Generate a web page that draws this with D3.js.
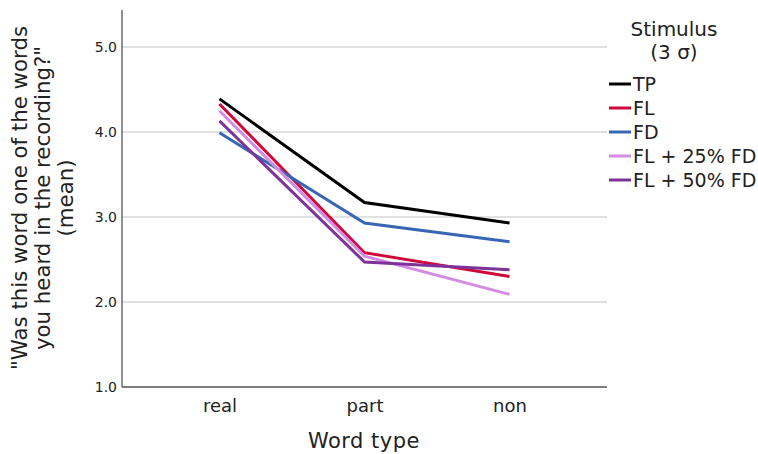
<!DOCTYPE html>
<html><head><meta charset="utf-8">
<script src="https://cdn.jsdelivr.net/npm/d3@7"></script>
<style>body{margin:0;background:#fff}svg{display:block;font-family:"DejaVu Sans",sans-serif}</style>
</head><body><svg id="c" width="758" height="454"></svg>
<script>
const categories = ["real","part","non"];
const seriesNames = ["TP","FL","FD","FL + 25% FD","FL + 50% FD"];
const seriesColors = ["#000000","#d0073b","#3767b4","#d48be2","#7e3398"];
const TP = [4.39, 3.17, 2.93];
const FL = [4.33, 2.58, 2.30];
const FD = [3.99, 2.93, 2.71];
const FL25 = [4.25, 2.54, 2.09];
const FL50 = [4.13, 2.47, 2.38];
const yTicks = [1.0, 2.0, 3.0, 4.0, 5.0];
const seriesValues = [TP, FL, FD, FL25, FL50];

(function () {
const svg = d3.select("#c");
const mLeft = 122, mRight = 607, mTop = 10, mBottom = 387;
const x = d3.scalePoint().domain(categories).range([mLeft, mRight]).padding(0.672);
const y = d3.scaleLinear().domain([1, 5]).range([mBottom, 47]);

// gridlines
svg.append("g").selectAll("line").data(yTicks.filter(d => d > 1)).join("line")
  .attr("x1", mLeft).attr("x2", mRight).attr("y1", d => y(d)).attr("y2", d => y(d))
  .attr("stroke", "#c4c4c4").attr("stroke-width", 1.2);

// y axis
const ya = svg.append("g").attr("transform", `translate(${mLeft},0)`)
  .call(d3.axisLeft(y).tickValues(yTicks).tickFormat(d3.format(".1f")).tickSize(0).tickPadding(5));
ya.select(".domain").remove();
ya.selectAll("text").attr("font-size", 14).attr("fill", "#222").attr("font-family", "DejaVu Sans");
svg.append("line").attr("x1", mLeft).attr("x2", mLeft).attr("y1", mTop).attr("y2", mBottom).attr("stroke", "#555").attr("stroke-width", 1.3);

// x axis
const xa = svg.append("g").attr("transform", `translate(0,${mBottom})`)
  .call(d3.axisBottom(x).tickSize(0).tickPadding(12));
xa.select(".domain").remove();
xa.selectAll("text").attr("font-size", 18).attr("fill", "#222").attr("font-family", "DejaVu Sans");
svg.append("line").attr("x1", mLeft).attr("x2", mRight).attr("y1", mBottom).attr("y2", mBottom).attr("stroke", "#555").attr("stroke-width", 1.3);

// lines
const line = d3.line().x((d, i) => x(categories[i])).y(d => y(d));
seriesValues.forEach((vals, i) => {
  svg.append("path").datum(vals).attr("d", line).attr("fill", "none")
    .attr("stroke", seriesColors[i]).attr("stroke-width", 3);
});

// axis titles
svg.append("text").attr("x", 364).attr("y", 448).attr("text-anchor", "middle")
  .attr("font-size", 21).attr("letter-spacing", 0.5).attr("fill", "#222").text("Word type");
const yl = ["\"Was this word one of the words", "you heard in the recording?\"", "(mean)"];
const yt = svg.append("text").attr("transform", "translate(0,198) rotate(-90)").attr("text-anchor", "middle")
  .attr("font-size", 21.3).attr("fill", "#222");
yl.forEach((t, i) => yt.append("tspan").attr("x", 0).attr("y", 27 + i * 23).text(t));

// legend
svg.append("text").attr("x", 674).attr("y", 36).attr("text-anchor", "middle").attr("font-size", 20).attr("fill", "#222").text("Stimulus");
svg.append("text").attr("x", 674).attr("y", 59).attr("text-anchor", "middle").attr("font-size", 20).attr("fill", "#222").text("(3 σ)");
const lg = svg.append("g").selectAll("g").data(seriesNames).join("g")
  .attr("transform", (d, i) => `translate(609,${84 + i * 24})`);
lg.append("line").attr("x1", 0).attr("x2", 22).attr("stroke", (d, i) => seriesColors[i]).attr("stroke-width", 3);
lg.append("text").attr("x", 24).attr("y", 7).attr("font-size", 19).attr("fill", "#222").text(d => d);
})();
</script></body></html>
